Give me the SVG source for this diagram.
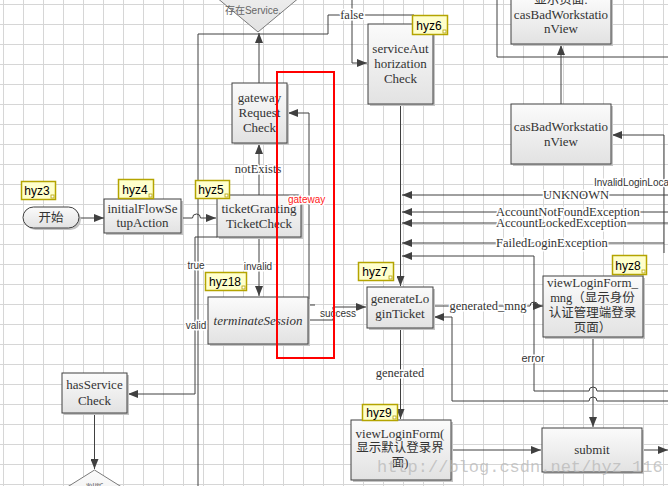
<svg xmlns="http://www.w3.org/2000/svg" width="668" height="486" viewBox="0 0 668 486">
<style>
.box{fill:url(#gr);stroke:#404040;stroke-width:1}
.sh{fill:#c4c4c4}
.t{font-family:"Liberation Serif","Times New Roman","Noto Sans CJK SC",serif;font-size:13px;fill:#333;text-anchor:middle}
.cj{font-family:"Liberation Serif","Noto Sans CJK SC",serif;font-size:12.5px;fill:#333;text-anchor:middle}
.lbl{font-family:"Liberation Serif","Times New Roman",serif;font-size:12.5px;fill:#333;stroke:#fff;stroke-width:3px;paint-order:stroke;stroke-linejoin:round}
.sl{font-family:"Liberation Sans",Arial,sans-serif;font-size:10px;fill:#333;stroke:#fff;stroke-width:3px;paint-order:stroke;stroke-linejoin:round}
.c{fill:none;stroke:#404040;stroke-width:1}
.tag rect.b{fill:#ffffcc;stroke:#b4a400;stroke-width:1.5}
.tag rect.k{fill:#fff;stroke:#b4a400;stroke-width:0.8}
.tag text{font-family:"Liberation Sans",Arial,sans-serif;font-size:12px;fill:#000;text-anchor:middle}
.dia{fill:url(#gr);stroke:#7a7a7a;stroke-width:1}
</style>
<defs>
<pattern id="grid" patternUnits="userSpaceOnUse" x="3" y="4" width="20" height="20">
<path d="M0,0.5H20M0.5,0V20" stroke="#d6d6d6" stroke-width="1" fill="none"/>
</pattern>
<linearGradient id="gr" x1="0" y1="0" x2="0" y2="1">
<stop offset="0" stop-color="#fbfbfb"/>
<stop offset="1" stop-color="#e2e2e2"/>
</linearGradient>
<marker id="a" viewBox="0 0 10 8" refX="10" refY="4" markerWidth="10" markerHeight="8" markerUnits="userSpaceOnUse" orient="auto">
<path d="M0,0L10,4L0,8z" fill="#404040"/>
</marker>
</defs>
<rect x="0" y="0" width="668" height="486" fill="#fff"/>
<rect x="0" y="0" width="668" height="486" fill="url(#grid)"/>

<g id="connectors">
<path class="c" d="M198,486V34H328V15H414"/>
<path class="c" d="M352,0V63H367" marker-end="url(#a)"/>
<path class="c" d="M259,83V33" marker-end="url(#a)"/>
<path class="c" d="M259,195V144" marker-end="url(#a)"/>
<path class="c" d="M259,237V296" marker-end="url(#a)"/>
<path class="c" d="M217,237H195V394H128" marker-end="url(#a)"/>
<path class="c" d="M79,218H104" marker-end="url(#a)"/>
<path class="c" d="M181,218H192.5A4,4 0 0 1 200.5,218H216" marker-end="url(#a)"/>
<path class="c" d="M315,305H309V113H288" marker-end="url(#a)"/>
<path class="c" d="M308,320H333V307H366" marker-end="url(#a)"/>
<path class="c" d="M400.5,104V286" marker-end="url(#a)"/>
<path class="c" d="M497,0V57H668"/>
<path class="c" d="M561,104V45" marker-end="url(#a)"/>
<path class="c" d="M664,253V135H612" marker-end="url(#a)"/>
<path class="c" d="M668,195H402" marker-end="url(#a)"/>
<path class="c" d="M668,212H402" marker-end="url(#a)"/>
<path class="c" d="M668,223H402" marker-end="url(#a)"/>
<path class="c" d="M664,243H402" marker-end="url(#a)"/>
<path class="c" d="M668,391H597A4,4 0 0 0 589,391H534V256H402" marker-end="url(#a)"/>
<path class="c" d="M668,401H597A4,4 0 0 0 589,401H452V317H434" marker-end="url(#a)"/>
<path class="c" d="M433,306H530A4,4 0 0 1 538,306H543" marker-end="url(#a)"/>
<path class="c" d="M400.5,328V419" marker-end="url(#a)"/>
<path class="c" d="M593,337V427" marker-end="url(#a)"/>
<path class="c" d="M451,450H541" marker-end="url(#a)"/>
<path class="c" d="M642,450H668" marker-end="url(#a)"/>
<path class="c" d="M94.5,413V469" marker-end="url(#a)"/>
</g>

<g id="node-service-diamond">
<polygon class="dia" points="258,32 306,-8 258,-48 210,-8"/>
<text x="253" y="14" style="font-family:'Liberation Sans','Noto Sans CJK SC',sans-serif;font-size:10px;fill:#666;text-anchor:middle">存在Service.</text>
</g>

<g id="node-start">
<rect class="sh" x="25" y="209" width="56" height="21" rx="10.5"/>
<rect class="box" x="23" y="207" width="56" height="21" rx="10.5"/>
<text class="cj" x="51" y="222">开始</text>
</g>

<g id="node-initialFlowSetupAction">
<rect class="sh" x="106" y="201" width="77" height="34"/>
<rect class="box" x="104" y="199" width="77" height="34"/>
<text class="t" x="142.5" y="213">initialFlowSe</text>
<text class="t" x="142.5" y="227">tupAction</text>
</g>

<g id="node-ticketGrantingTicketCheck">
<rect class="sh" x="219" y="197" width="84" height="42"/>
<rect class="box" x="217" y="195" width="84" height="42"/>
<text class="t" x="259" y="213">ticketGranting</text>
<text class="t" x="259" y="228">TicketCheck</text>
</g>

<g id="node-gatewayRequestCheck">
<rect class="sh" x="234" y="85" width="55" height="60"/>
<rect class="box" x="232" y="83" width="55" height="60"/>
<text class="t" x="259.5" y="102">gateway</text>
<text class="t" x="259.5" y="117">Request</text>
<text class="t" x="259.5" y="132">Check</text>
</g>

<g id="node-terminateSession">
<rect class="sh" x="210" y="299" width="100" height="47"/>
<rect class="box" x="208" y="297" width="100" height="47"/>
<text class="t" x="258" y="325" style="font-style:italic">terminateSession</text>
</g>

<g id="node-serviceAuthorizationCheck">
<rect class="sh" x="370" y="26" width="65" height="80"/>
<rect class="box" x="368" y="24" width="65" height="80"/>
<text class="t" x="400.5" y="53">serviceAut</text>
<text class="t" x="400.5" y="68">horization</text>
<text class="t" x="400.5" y="83">Check</text>
</g>

<g id="node-casBadWorkstationView-top">
<rect class="sh" x="513" y="-1" width="100" height="47"/>
<rect class="box" x="511" y="-3" width="100" height="47"/>
<text class="cj" x="561" y="4">显示页面:</text>
<text class="t" x="561" y="19">casBadWorkstatio</text>
<text class="t" x="561" y="33">nView</text>
</g>

<g id="node-casBadWorkstationView">
<rect class="sh" x="513" y="106" width="100" height="60"/>
<rect class="box" x="511" y="104" width="100" height="60"/>
<text class="t" x="561" y="131">casBadWorkstatio</text>
<text class="t" x="561" y="146">nView</text>
</g>

<g id="node-generateLoginTicket">
<rect class="sh" x="369" y="289" width="66" height="41"/>
<rect class="box" x="367" y="287" width="66" height="41"/>
<text class="t" x="400" y="303">generateLo</text>
<text class="t" x="400" y="318">ginTicket</text>
</g>

<g id="node-viewLoginForm_mng">
<rect class="sh" x="545" y="278" width="100" height="61"/>
<rect class="box" x="543" y="276" width="100" height="61"/>
<text class="t" x="592.5" y="287">viewLoginForm_</text>
<text class="cj" x="592.5" y="302">mng（显示身份</text>
<text class="cj" x="592.5" y="317">认证管理端登录</text>
<text class="cj" x="592.5" y="332">页面）</text>
</g>

<g id="node-viewLoginForm">
<rect class="sh" x="353" y="422" width="100" height="60"/>
<rect class="box" x="351" y="420" width="100" height="60"/>
<text class="t" x="400" y="438">viewLoginForm(</text>
<text class="cj" x="400" y="452">显示默认登录界</text>
<text class="cj" x="400" y="467">面)</text>
</g>

<g id="node-submit">
<rect class="sh" x="544" y="430" width="100" height="44"/>
<rect class="box" x="542" y="428" width="100" height="44"/>
<text class="t" x="592" y="454">submit</text>
</g>

<g id="node-hasServiceCheck">
<rect class="sh" x="64" y="375" width="65" height="40"/>
<rect class="box" x="62" y="373" width="65" height="40"/>
<text class="t" x="94.5" y="389">hasService</text>
<text class="t" x="94.5" y="405">Check</text>
</g>

<g id="node-judge-diamond">
<polygon class="dia" points="94.5,470 152,506 94.5,542 37,506"/>
<text x="94.5" y="491" style="font-family:'Noto Sans CJK SC',sans-serif;font-size:9px;fill:#666;text-anchor:middle">判断</text>
</g>

<g id="edge-labels">
<text class="lbl" x="352" y="19" text-anchor="middle">false</text>
<text class="lbl" x="258" y="173" text-anchor="middle">notExists</text>
<text class="sl" x="258" y="270" text-anchor="middle">invalid</text>
<text class="sl" x="196" y="269" text-anchor="middle">true</text>
<text class="sl" x="196" y="329" text-anchor="middle">valid</text>
<text class="sl" x="338" y="317" text-anchor="middle">success</text>
<text class="sl" x="288" y="203" style="fill:#ff2020">gateway</text>
<text class="sl" x="594" y="186">InvalidLoginLoca</text>
<text class="lbl" x="543" y="199">UNKNOWN</text>
<text class="lbl" x="496" y="216">AccountNotFoundException</text>
<text class="lbl" x="496" y="227">AccountLockedException</text>
<text class="lbl" x="496" y="247">FailedLoginException</text>
<text class="lbl" x="488" y="310" text-anchor="middle">generated_mng</text>
<text class="sl" x="533" y="362" text-anchor="middle" style="font-size:11px">error</text>
<text class="lbl" x="400" y="377" text-anchor="middle">generated</text>
</g>

<g id="tags">
<g class="tag" id="tag-hyz3"><rect class="b" x="21.5" y="181.5" width="34" height="18"/><rect class="k" x="51" y="195" width="3" height="3"/><text x="37" y="195">hyz3</text></g>
<g class="tag" id="tag-hyz4"><rect class="b" x="118.5" y="179.5" width="35" height="19"/><rect class="k" x="149" y="194" width="3" height="3"/><text x="135" y="194">hyz4</text></g>
<g class="tag" id="tag-hyz5"><rect class="b" x="195.5" y="180.5" width="34" height="18"/><rect class="k" x="225" y="194" width="3" height="3"/><text x="211" y="194">hyz5</text></g>
<g class="tag" id="tag-hyz6"><rect class="b" x="412.5" y="15.5" width="35" height="19"/><rect class="k" x="443" y="30" width="3" height="3"/><text x="429" y="30">hyz6</text></g>
<g class="tag" id="tag-hyz18"><rect class="b" x="205.5" y="272.5" width="41" height="18"/><rect class="k" x="242" y="286" width="3" height="3"/><text x="225" y="286">hyz18</text></g>
<g class="tag" id="tag-hyz7"><rect class="b" x="358.5" y="262.5" width="35" height="18"/><rect class="k" x="389" y="276" width="3" height="3"/><text x="375" y="276">hyz7</text></g>
<g class="tag" id="tag-hyz8"><rect class="b" x="612.5" y="255.5" width="34" height="19"/><rect class="k" x="642" y="270" width="3" height="3"/><text x="628" y="270">hyz8</text></g>
<g class="tag" id="tag-hyz9"><rect class="b" x="362.5" y="404.5" width="35" height="16"/><rect class="k" x="393" y="416" width="3" height="3"/><text x="379" y="417">hyz9</text></g>
</g>

<rect id="highlight" x="277" y="72" width="57" height="286" fill="none" stroke="#ff0000" stroke-width="2"/>

<text x="377" y="472" style="font-family:'Liberation Mono','Courier New',monospace;font-size:17px;fill:#b8b8b8;fill-opacity:0.75">http://blog.csdn.net/hyz_116</text>
</svg>
